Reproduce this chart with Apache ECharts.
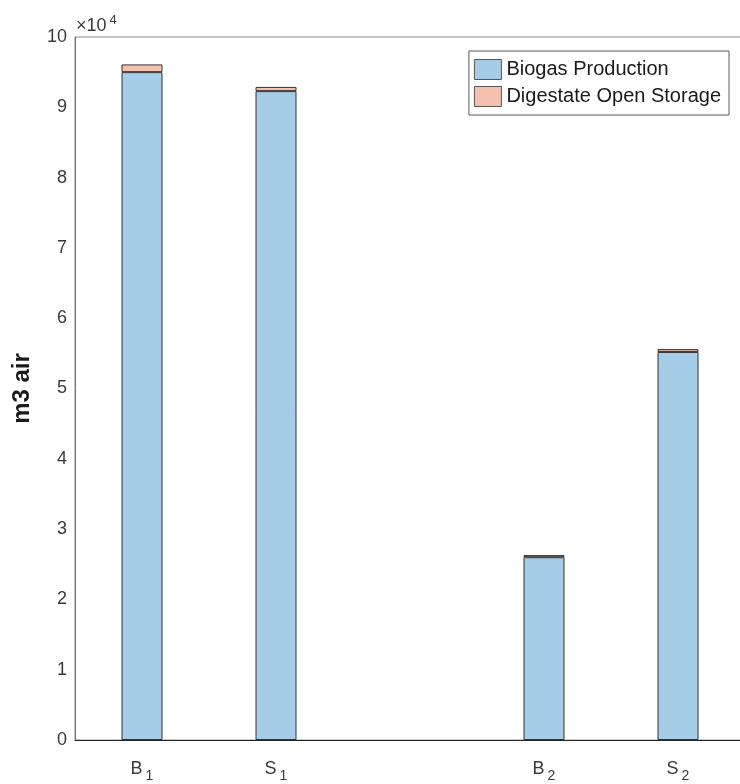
<!DOCTYPE html>
<html>
<head>
<meta charset="utf-8">
<script src="https://cdn.jsdelivr.net/npm/echarts@6/dist/echarts.min.js"></script>
<style>
html,body{margin:0;padding:0;background:#fff;overflow:hidden;width:740px;height:784px;}
#chart{width:746px;height:784px;}
</style>
</head>
<body>
<div id="chart"></div>
<script>
var categories = ['B|1', 'S|1', '', 'B|2', 'S|2'];
var biogasProduction = [95000, 92300, null, 26000, 55200];
var digestateOpenStorage = [1100, 600, null, 300, 400];
var yTickValues = [0, 10000, 20000, 30000, 40000, 50000, 60000, 70000, 80000, 90000, 100000];

var FONT = 'Liberation Sans, Arial, sans-serif';
var chart = echarts.init(document.getElementById('chart'), null, {renderer: 'canvas'});
chart.setOption({
  animation: false,
  backgroundColor: '#ffffff',
  textStyle: {fontFamily: FONT},
  grid: {
    left: 75, top: 37, width: 670, height: 703,
    show: true, borderColor: '#8c8c8c', borderWidth: 1, backgroundColor: 'transparent',
    containLabel: false
  },
  legend: {
    right: 17, top: 51,
    orient: 'vertical',
    icon: 'rect',
    backgroundColor: '#ffffff',
    borderColor: '#5a5a5a', borderWidth: 1,
    padding: [8, 8, 8, 5],
    itemWidth: 27, itemHeight: 20, itemGap: 6,
    textStyle: {fontSize: 20, lineHeight: 20, color: '#1a1a1a', fontFamily: FONT},
    data: [
      {name: 'Biogas Production', itemStyle: {color: '#a6cde8', borderColor: '#555', borderWidth: 1}},
      {name: 'Digestate Open Storage', itemStyle: {color: '#f5c1ae', borderColor: '#555', borderWidth: 1}}
    ]
  },
  xAxis: {
    type: 'category',
    data: categories,
    axisLine: {show: true, lineStyle: {color: '#262626', width: 1}},
    axisTick: {show: false},
    axisLabel: {
      interval: 0,
      margin: 15,
      formatter: function (v) {
        if (!v) return '';
        var p = v.split('|');
        return '{n|' + p[0] + '}{s|' + p[1] + '}';
      },
      rich: {
        n: {fontSize: 18, color: '#3a3a3a', fontFamily: FONT},
        s: {fontSize: 14, color: '#3a3a3a', fontFamily: FONT, padding: [14, 0, 0, 3]}
      }
    }
  },
  yAxis: {
    type: 'value',
    min: 0, max: 100000, interval: 10000,
    name: 'm3 air',
    nameLocation: 'middle',
    nameGap: 41,
    nameRotate: 90,
    nameTextStyle: {fontSize: 24, fontWeight: 'bold', color: '#1a1a1a', fontFamily: FONT},
    axisLine: {show: true, lineStyle: {color: '#707070', width: 1}},
    axisTick: {show: false},
    splitLine: {show: false},
    axisLabel: {
      fontSize: 18, color: '#3a3a3a', margin: 8, fontFamily: FONT,
      formatter: function (v) { return yTickValues.indexOf(v) >= 0 ? String(v / 10000) : ''; }
    }
  },
  graphic: [{
    type: 'text',
    left: 76, top: 14,
    style: {
      text: '{a|×10}{b|4}',
      rich: {
        a: {fontSize: 18, fill: '#3a3a3a', fontFamily: FONT},
        b: {fontSize: 13, fill: '#3a3a3a', fontFamily: FONT, padding: [0, 0, 12, 3]}
      }
    }
  }],
  series: [
    {
      name: 'Biogas Production', type: 'bar', stack: 'total', barWidth: 41,
      itemStyle: {color: '#a6cde8', borderColor: '#333', borderWidth: 1},
      data: biogasProduction
    },
    {
      name: 'Digestate Open Storage', type: 'bar', stack: 'total', barWidth: 41,
      itemStyle: {color: '#f5c1ae', borderColor: '#333', borderWidth: 1},
      data: digestateOpenStorage
    }
  ]
});
</script>
</body>
</html>
